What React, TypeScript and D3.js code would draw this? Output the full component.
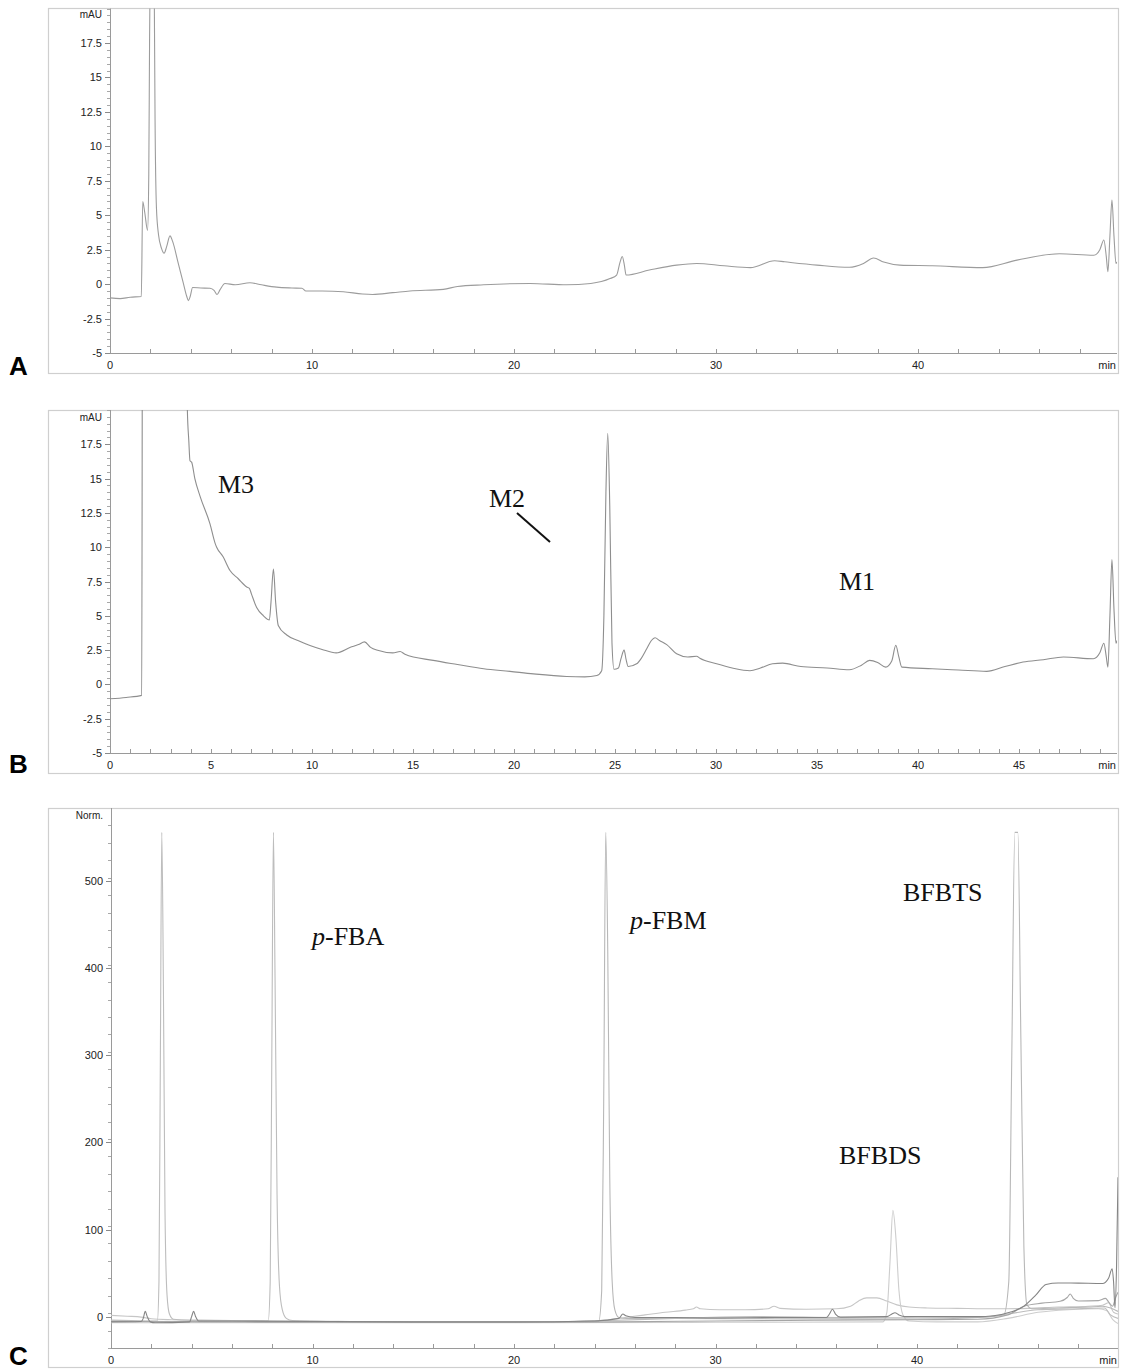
import * as d3 from 'd3';

type Pt = [number, number];

// Panel A: blank run (time in min, absorbance in mAU)
const traceA: Pt[] = [
  [0, -1.0], [0.5, -1.05], [1.0, -0.95], [1.55, -0.9], [1.62, 6.0], [1.72, 5.2], [1.86, 3.9],
  [1.92, 8], [1.96, 18], [2.02, 28], [2.1, 32], [2.18, 24], [2.23, 12], [2.3, 5.5], [2.4, 3.6],
  [2.55, 2.6], [2.68, 2.25], [2.8, 2.7], [2.97, 3.5], [3.1, 3.1], [3.38, 1.5], [3.63, 0.07],
  [3.8, -0.9], [3.88, -1.2], [3.97, -0.9], [4.09, -0.25], [4.5, -0.28], [4.95, -0.3], [5.15, -0.45],
  [5.3, -0.75], [5.45, -0.4], [5.69, 0.05], [6.2, -0.05], [6.93, 0.1], [7.5, -0.05], [8.25, -0.22],
  [9.0, -0.28], [9.5, -0.3], [9.7, -0.5], [10.5, -0.5], [11.55, -0.55], [12.5, -0.72], [13.0, -0.75],
  [14.0, -0.62], [14.85, -0.5], [16.5, -0.38], [17.2, -0.17], [18.5, -0.05], [20.8, 0.05],
  [22.6, -0.05], [23.8, 0.05], [24.75, 0.4], [25.08, 0.66], [25.25, 1.6], [25.36, 2.0], [25.46, 1.4],
  [25.55, 0.66], [26.7, 1.02], [28.05, 1.38], [29.04, 1.5], [30.4, 1.33], [31.7, 1.2], [32.9, 1.7],
  [33.4, 1.62], [35.0, 1.38], [36.6, 1.22], [37.3, 1.5], [37.8, 1.9], [38.3, 1.6], [39.1, 1.38],
  [40.7, 1.33], [43.2, 1.2], [44.9, 1.74], [47.0, 2.2], [48.7, 2.1], [49.0, 2.5], [49.2, 3.2],
  [49.32, 2.0], [49.4, 0.9], [49.5, 3.5], [49.6, 6.1], [49.7, 3.5], [49.8, 1.5], [49.85, 1.6],
];

// Panel B: sample run
const traceB: Pt[] = [
  [0, -1.05], [0.8, -0.95], [1.57, -0.8], [1.62, 40], [3.75, 40], [3.83, 20], [3.9, 17.8],
  [3.96, 16.3], [4.04, 16.2], [4.2, 15], [4.46, 13.7], [4.95, 11.7], [5.2, 10.3], [5.28, 10.0],
  [5.6, 9.3], [5.94, 8.3], [6.35, 7.7], [6.77, 7.1], [6.9, 7.0], [7.0, 6.6], [7.26, 5.6], [7.6, 5.0],
  [7.89, 4.7], [7.97, 6], [8.09, 8.4], [8.2, 6], [8.33, 4.3], [8.75, 3.6], [9.3, 3.2], [9.9, 2.84],
  [10.5, 2.55], [11.2, 2.3], [11.9, 2.7], [12.3, 2.9], [12.6, 3.1], [12.9, 2.7], [13.2, 2.5],
  [14.0, 2.3], [14.36, 2.4], [14.6, 2.2], [16.0, 1.75], [17.2, 1.45], [18.5, 1.14], [19.8, 0.95],
  [20.96, 0.77], [22.6, 0.58], [23.5, 0.55], [24.1, 0.65], [24.34, 1.0], [24.45, 5], [24.55, 14],
  [24.64, 18.3], [24.74, 13], [24.85, 3], [24.95, 1.1], [25.17, 1.2], [25.3, 1.9], [25.45, 2.5],
  [25.55, 1.8], [25.65, 1.3], [26.07, 1.5], [26.3, 1.9], [26.57, 2.6], [26.8, 3.2], [26.98, 3.4],
  [27.2, 3.2], [27.56, 2.9], [28.05, 2.23], [28.6, 2.0], [29.04, 2.05], [29.2, 1.9], [30.03, 1.5],
  [30.8, 1.2], [31.68, 1.0], [32.2, 1.2], [32.8, 1.5], [33.3, 1.55], [34.2, 1.3], [35.5, 1.2],
  [36.6, 1.07], [37.2, 1.4], [37.6, 1.75], [38.0, 1.6], [38.4, 1.26], [38.7, 1.7], [38.9, 2.85],
  [39.05, 2.0], [39.2, 1.26], [40.7, 1.14], [42.0, 1.05], [43.4, 0.95], [44.3, 1.3], [45.2, 1.63],
  [46.2, 1.8], [47.2, 2.0], [48.68, 1.87], [49.0, 2.3], [49.2, 3.0], [49.32, 2.0], [49.4, 1.26],
  [49.5, 5], [49.6, 9.1], [49.7, 5.5], [49.8, 3.0], [49.85, 3.2],
];

// Panel C: overlaid standards, normalised
const traceC1: Pt[] = [
  [0, 1.5], [0.8, 0.5], [1.5, -0.5], [2.0, -2.5], [3.0, -3.5], [4.5, -4], [6, -4.5], [8, -5], [10, -5],
  [12, -5.5], [15, -6], [18, -6], [21, -6], [23, -5.5], [24.5, -4], [25.5, -1], [26.5, 2], [27.5, 5],
  [28.5, 7.5], [28.9, 9], [29.05, 11], [29.25, 9], [30.2, 8], [31.5, 8], [32.6, 9], [32.9, 12],
  [33.2, 9.5], [34.5, 8.5], [36.0, 9], [36.7, 12], [37.1, 18], [37.5, 21.5], [38.0, 21.5], [38.5, 18],
  [39.0, 13.5], [39.6, 11], [40.5, 10], [42, 9.5], [44, 9], [45.5, 9.5], [47, 11], [48.5, 12],
  [49.2, 13], [49.5, 16], [49.75, 5], [49.97, 3],
];
const traceC2: Pt[] = [
  [0, -4], [1.0, -4.5], [2.0, -5], [2.3, -5], [2.38, 40], [2.45, 300], [2.52, 556], [2.6, 380],
  [2.68, 120], [2.78, 25], [2.9, 3], [3.1, -3], [4.0, -4.5], [6.0, -5], [7.8, -5], [7.9, 40],
  [7.98, 300], [8.06, 556], [8.14, 390], [8.24, 140], [8.36, 35], [8.5, 8], [8.7, -2], [9.0, -4.5],
  [12, -6], [16, -6.5], [20, -6.5], [24, -5], [28, -2], [32, 0], [36, -1], [40, -1.5], [43, -1],
  [44.5, 3], [46, 8], [48, 9], [49.3, 10], [49.6, 2], [49.97, -2],
];
const traceC3: Pt[] = [
  [0, -5], [3, -5.5], [8, -6], [14, -6.5], [20, -6.5], [24.2, -5.5], [24.35, 30], [24.45, 250],
  [24.55, 556], [24.65, 420], [24.75, 160], [24.87, 40], [25.0, 8], [25.2, -1], [25.6, -2], [28, -2],
  [32, -2.5], [36, -2.5], [40, -3], [43, -1], [44.3, 2], [44.55, 40], [44.7, 300], [44.85, 556],
  [45.0, 556], [45.15, 320], [45.3, 80], [45.45, 14], [45.7, 9], [47, 10], [48.5, 11], [49.2, 12],
  [49.6, 10], [49.97, 6],
];
const traceC4: Pt[] = [
  [0, -6], [1.5, -5.5], [1.6, -2], [1.7, 6], [1.8, 0], [1.95, -6], [2.2, -7], [3.9, -6], [4.0, 0],
  [4.1, 6], [4.2, 0], [4.35, -5], [6, -5], [10, -5.5], [15, -6], [20, -6], [24, -5], [25.2, -2],
  [25.4, 3], [25.55, 1], [26, -1], [28, -1], [30, -1.5], [33, -1], [35.5, -1], [35.65, 3], [35.8, 8.5],
  [35.95, 3], [36.2, -0.5], [38.5, 0], [38.75, 3], [38.9, 4.5], [39.1, 2], [39.4, 0], [43.0, 0],
  [43.8, 1], [44.6, 5], [45.3, 12], [45.9, 25], [46.4, 37], [47, 38.7], [48, 38.5], [49.2, 38],
  [49.5, 44], [49.68, 55], [49.75, 40], [49.82, 10], [49.9, 60], [49.97, 160],
];
const traceC5: Pt[] = [
  [0, -5.5], [5, -6], [10, -6.5], [20, -6.5], [25, -6], [30, -5], [35, -4], [40, -3.5], [43, -3],
  [44.5, 2], [45.3, 12], [46.2, 15.5], [47.1, 17.6], [47.45, 22], [47.6, 26], [47.75, 21], [48, 18],
  [49, 18.4], [49.35, 21], [49.5, 17], [49.7, 12], [49.85, 22], [49.97, 28],
];
const traceC6: Pt[] = [
  [0, -7], [5, -7], [10, -7], [20, -7], [30, -6.5], [38.3, -6], [38.5, 5], [38.65, 60], [38.8, 122],
  [38.95, 90], [39.1, 30], [39.3, 2], [39.6, -5], [41, -6], [43, -6], [44.5, -2], [46, 5], [47.5, 8],
  [49, 9], [49.4, 7], [49.7, -3], [49.97, -8],
];

const mauTicks = [-5, -2.5, 0, 2.5, 5, 7.5, 10, 12.5, 15, 17.5];
const mauTickLabels = ['-5', '-2.5', '0', '2.5', '5', '7.5', '10', '12.5', '15', '17.5'];
const normTicks = [0, 100, 200, 300, 400, 500];
const timeTicksA = [0, 10, 20, 30, 40];
const timeTicksB = [0, 5, 10, 15, 20, 25, 30, 35, 40, 45];
const timeTicksC = [0, 10, 20, 30, 40];

type Trace = { data: Pt[]; color: string; width?: number };
type Note = { x: number; y: number; text: string; italicP?: boolean };

type PanelCfg = {
  id: string;
  letter: string;
  frame: [number, number, number, number];
  left: number; right: number; top: number; bottom: number;
  xDomain: [number, number];
  yDomain: [number, number];
  yTicks: number[];
  yLabels: string[];
  yMinorStep: number;
  yMinorMax: number;
  xTicks: number[];
  xMinorStep: number;
  unit: string;
  unitY: number;
  traces: Trace[];
  notes: Note[];
  letterY: number;
};

const sans = "'Liberation Sans', Arial, Helvetica, sans-serif";
const serif = "'Liberation Serif', 'Times New Roman', serif";

function Panel({ cfg }: { cfg: PanelCfg }) {
  const x = d3.scaleLinear().domain(cfg.xDomain).range([cfg.left, cfg.right]);
  const y = d3.scaleLinear().domain(cfg.yDomain).range([cfg.bottom, cfg.top]);
  const line = d3.line<Pt>().x(d => x(d[0])).y(d => y(d[1])).curve(d3.curveMonotoneX);

  const yMinor = d3.range(cfg.yDomain[0], cfg.yMinorMax + 1e-9, cfg.yMinorStep)
    .filter(v => y(v) >= cfg.top - 0.5);
  const xMinor = d3.range(0, cfg.xDomain[1], cfg.xMinorStep);
  const [fx, fy, fw, fh] = cfg.frame;

  return (
    <g>
      <rect x={fx + 0.5} y={fy + 0.5} width={fw} height={fh} fill="none" stroke="#cfcfcf" strokeWidth={1.2} />
      <clipPath id={`clip-${cfg.id}`}>
        <rect x={cfg.left} y={cfg.top} width={cfg.right - cfg.left} height={cfg.bottom - cfg.top} />
      </clipPath>
      {/* axes */}
      <line x1={cfg.left + 0.5} x2={cfg.left + 0.5} y1={cfg.top} y2={cfg.bottom} stroke="#9a9a9a" />
      <line x1={cfg.left} x2={cfg.right} y1={cfg.bottom + 0.5} y2={cfg.bottom + 0.5} stroke="#9a9a9a" />
      {yMinor.map((v, i) => (
        <line key={`ym${i}`} x1={cfg.left - 3} x2={cfg.left} y1={Math.round(y(v)) + 0.5} y2={Math.round(y(v)) + 0.5} stroke="#a8a8a8" />
      ))}
      {cfg.yTicks.map((v, i) => (
        <g key={`yt${i}`}>
          <line x1={cfg.left - 5} x2={cfg.left} y1={Math.round(y(v)) + 0.5} y2={Math.round(y(v)) + 0.5} stroke="#8a8a8a" />
          <text x={cfg.left - 8} y={y(v) + 4} textAnchor="end" fontFamily={sans} fontSize={11} fill="#222">{cfg.yLabels[i]}</text>
        </g>
      ))}
      <text x={cfg.left - 8} y={cfg.unitY} textAnchor="end" fontFamily={sans} fontSize={10} fill="#222">{cfg.unit}</text>
      {xMinor.map((v, i) => (
        <line key={`xm${i}`} x1={Math.round(x(v)) + 0.5} x2={Math.round(x(v)) + 0.5} y1={cfg.bottom - 4} y2={cfg.bottom} stroke="#9a9a9a" />
      ))}
      {cfg.xTicks.map((v, i) => (
        <text key={`xt${i}`} x={x(v)} y={cfg.bottom + 16} textAnchor="middle" fontFamily={sans} fontSize={11} fill="#222">{v}</text>
      ))}
      <text x={cfg.right - 1} y={cfg.bottom + 16} textAnchor="end" fontFamily={sans} fontSize={11} fill="#222">min</text>
      {/* traces */}
      <g clipPath={`url(#clip-${cfg.id})`}>
        {cfg.traces.map((t, i) => (
          <path key={`tr${i}`} d={line(t.data) ?? ''} fill="none" stroke={t.color} strokeWidth={t.width ?? 1.1} strokeLinejoin="round" />
        ))}
      </g>
      {cfg.notes.map((n, i) => (
        <text key={`n${i}`} x={n.x} y={n.y} fontFamily={serif} fontSize={26} fill="#111">
          {n.italicP ? <><tspan fontStyle="italic">p</tspan>{n.text}</> : n.text}
        </text>
      ))}
      <text x={9} y={cfg.letterY} fontFamily={sans} fontWeight="bold" fontSize={26} fill="#000">{cfg.letter}</text>
    </g>
  );
}

const panels: PanelCfg[] = [
  {
    id: 'a', letter: 'A', frame: [48, 8, 1070, 365],
    left: 110, right: 1117, top: 8.6, bottom: 353,
    xDomain: [0, 49.85], yDomain: [-5, 20],
    yTicks: mauTicks, yLabels: mauTickLabels, yMinorStep: 0.5, yMinorMax: 20,
    xTicks: timeTicksA, xMinorStep: 2,
    unit: 'mAU', unitY: 18,
    traces: [{ data: traceA, color: '#9c9c9c' }],
    notes: [], letterY: 375,
  },
  {
    id: 'b', letter: 'B', frame: [48, 410, 1070, 363],
    left: 110, right: 1117, top: 410, bottom: 753,
    xDomain: [0, 49.85], yDomain: [-5, 20],
    yTicks: mauTicks, yLabels: mauTickLabels, yMinorStep: 0.5, yMinorMax: 20,
    xTicks: timeTicksB, xMinorStep: 1,
    unit: 'mAU', unitY: 421,
    traces: [{ data: traceB, color: '#8e8e8e' }],
    notes: [
      { x: 218, y: 493, text: 'M3' },
      { x: 489, y: 507, text: 'M2' },
      { x: 839, y: 590, text: 'M1' },
    ],
    letterY: 773,
  },
  {
    id: 'c', letter: 'C', frame: [48, 808, 1070, 559],
    left: 111, right: 1118, top: 808, bottom: 1348,
    xDomain: [0, 49.97], yDomain: [-36, 584],
    yTicks: normTicks, yLabels: normTicks.map(String), yMinorStep: 20, yMinorMax: 580,
    xTicks: timeTicksC, xMinorStep: 2,
    unit: 'Norm.', unitY: 819,
    traces: [
      { data: traceC1, color: '#c6c6c6' },
      { data: traceC6, color: '#cdcdcd' },
      { data: traceC2, color: '#bdbdbd' },
      { data: traceC3, color: '#b8b8b8' },
      { data: traceC5, color: '#a6a6a6' },
      { data: traceC4, color: '#858585' },
    ],
    notes: [
      { x: 312, y: 945, text: '-FBA', italicP: true },
      { x: 630, y: 929, text: '-FBM', italicP: true },
      { x: 903, y: 901, text: 'BFBTS' },
      { x: 839, y: 1164, text: 'BFBDS' },
    ],
    letterY: 1365,
  },
];

export default function App() {
  return (
    <div style={{ position: 'absolute', left: 0, top: 0 }}>
      <svg width={1121} height={1371} viewBox="0 0 1121 1371" style={{ display: 'block', background: '#fff' }}>
        {panels.map(p => <Panel key={p.id} cfg={p} />)}
        {/* M2 pointer */}
        <line x1={517} y1={513} x2={550} y2={542} stroke="#111" strokeWidth={2} />
      </svg>
    </div>
  );
}
